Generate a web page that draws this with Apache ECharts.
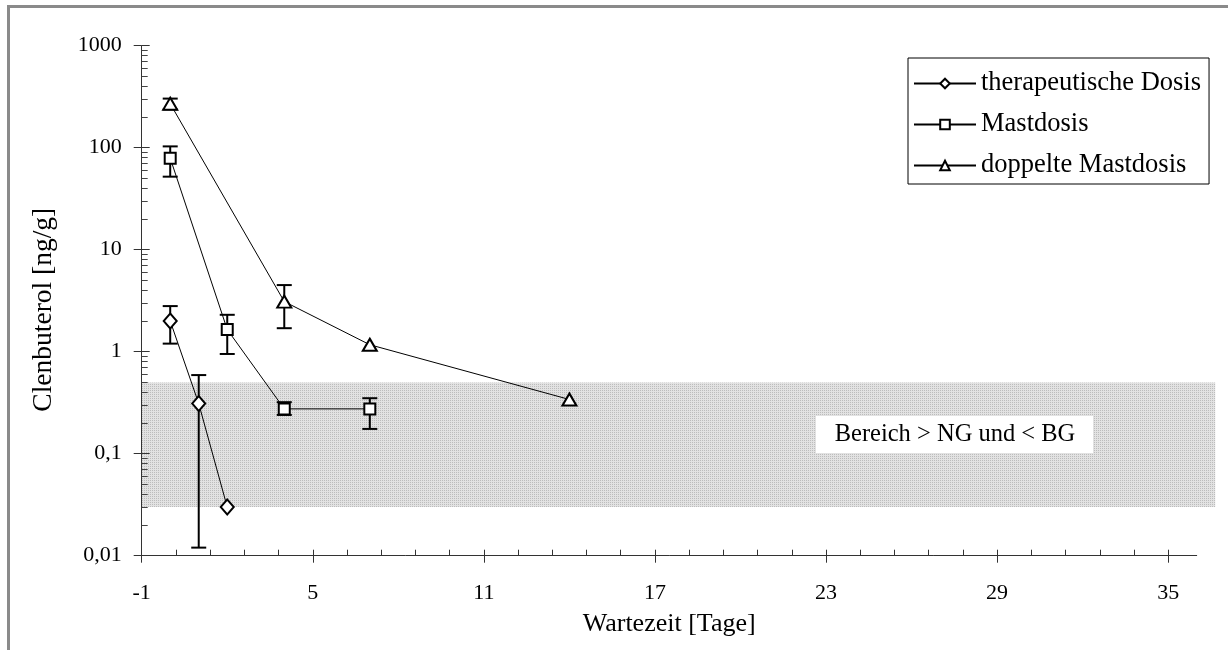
<!DOCTYPE html>
<html>
<head>
<meta charset="utf-8">
<script src="https://cdn.jsdelivr.net/npm/echarts@6/dist/echarts.min.js"></script>
<style>
html, body { margin: 0; padding: 0; background: #fff; }
#chart { width: 1228px; height: 650px; }
</style>
</head>
<body>
<div id="chart"></div>
<script>
// Clenbuterol residue vs. withdrawal time (log scale), mean with min/max bars
const seriesNames = ['therapeutische Dosis', 'Mastdosis', 'doppelte Mastdosis'];

const therapDays = [0, 1, 2];
const therapMean = [2.0, 0.31, 0.03];
const therapLow  = [1.2, 0.012, null];
const therapHigh = [2.8, 0.59, null];

const mastDays = [0, 2, 4, 7];
const mastMean = [79, 1.65, 0.275, 0.275];
const mastLow  = [52, 0.95, 0.24, 0.175];
const mastHigh = [103, 2.3, 0.32, 0.35];

const doppDays = [0, 4, 7, 14];
const doppMean = [270, 3.1, 1.17, 0.34];
const doppLow  = [237, 1.7, null, null];
const doppHigh = [303, 4.5, null, null];

// range between detection limit (NG) and determination limit (BG)
const bandLow = 0.03;
const bandHigh = 0.5;
const bandLabel = 'Bereich > NG und < BG';

const xTickLabels = [-1, 5, 11, 17, 23, 29, 35];
const yTickLabels = [0.01, 0.1, 1, 10, 100, 1000];
const xName = 'Wartezeit [Tage]';
const yName = 'Clenbuterol [ng/g]';

const FONT = '"Liberation Serif", "Times New Roman", serif';

// minor ticks: 5 steps between x majors, 2..9 within each decade on y
const xMinor = [];
for (let i = 0; i < xTickLabels.length - 1; i++) {
  const a = xTickLabels[i], b = xTickLabels[i + 1];
  for (let k = 1; k < 5; k++) xMinor.push(+(a + (b - a) * k / 5).toFixed(4));
}
const yMinor = [];
for (let i = 0; i < yTickLabels.length - 1; i++) {
  for (let m = 2; m <= 9; m++) yMinor.push(+(yTickLabels[i] * m).toPrecision(3));
}

function pairs(xs, ys) { return xs.map((x, i) => [x, ys[i]]); }
function bars(xs, lo, hi) {
  const out = [];
  xs.forEach((x, i) => { if (lo[i] != null && hi[i] != null) out.push([x, lo[i], hi[i]]); });
  return out;
}

// light dotted fill for the NG/BG band
const pat = document.createElement('canvas');
pat.width = 2; pat.height = 2;
const pctx = pat.getContext('2d');
pctx.fillStyle = '#e2e2e2'; pctx.fillRect(0, 0, 2, 2);
pctx.fillStyle = '#bcbcbc'; pctx.fillRect(0, 0, 1, 1);

const chart = echarts.init(document.getElementById('chart'), null, { renderer: 'canvas' });

function errorBarItem(params, api) {
  const x = api.value(0);
  const pLo = api.coord([x, api.value(1)]);
  const pHi = api.coord([x, api.value(2)]);
  const w = 7.5;
  const st = { stroke: '#000', lineWidth: 2 };
  return {
    type: 'group',
    children: [
      { type: 'line', shape: { x1: pLo[0], y1: pLo[1], x2: pHi[0], y2: pHi[1] }, style: st },
      { type: 'line', shape: { x1: pHi[0] - w, y1: pHi[1], x2: pHi[0] + w, y2: pHi[1] }, style: st },
      { type: 'line', shape: { x1: pLo[0] - w, y1: pLo[1], x2: pLo[0] + w, y2: pLo[1] }, style: st }
    ]
  };
}

const axisLineStyle = { color: '#333', width: 1 };
const markerStyle = { color: '#fff', borderColor: '#000', borderWidth: 2 };

chart.setOption({
  animation: false,
  backgroundColor: '#fff',
  grid: { left: 141.7, right: 31.3, top: 45.7, bottom: 94.3 },
  xAxis: [
    {
      type: 'value', min: -1, max: 36, z: 2,
      axisLine: { onZero: false, lineStyle: axisLineStyle },
      axisTick: { show: true, inside: false, length: 7, lineStyle: axisLineStyle, customValues: xTickLabels },
      axisLabel: { customValues: xTickLabels, color: '#000', fontFamily: FONT, fontSize: 22, margin: 27 },
      splitLine: { show: false },
      name: xName, nameLocation: 'middle', nameGap: 55,
      nameTextStyle: { color: '#000', fontFamily: FONT, fontSize: 26 }
    },
    {
      type: 'value', min: -1, max: 36, z: 2, position: 'bottom',
      axisLine: { show: false, onZero: false },
      axisTick: { show: true, inside: true, length: 6, lineStyle: axisLineStyle, customValues: xTickLabels.concat(xMinor) },
      axisLabel: { show: false },
      splitLine: { show: false }
    }
  ],
  yAxis: [
    {
      type: 'log', logBase: 10, min: 0.01, max: 1000, z: 2,
      axisLine: { show: true, onZero: false, lineStyle: axisLineStyle },
      axisTick: { show: true, inside: false, length: 8, lineStyle: axisLineStyle, customValues: yTickLabels },
      axisLabel: {
        customValues: yTickLabels, color: '#000', fontFamily: FONT, fontSize: 22, margin: 20,
        formatter: v => String(+v.toPrecision(3)).replace('.', ',')
      },
      splitLine: { show: false },
      name: yName, nameLocation: 'middle', nameGap: 84, nameRotate: 90,
      nameTextStyle: { color: '#000', fontFamily: FONT, fontSize: 27.5, padding: [0, 0, 0, -18] }
    },
    {
      type: 'log', logBase: 10, min: 0.01, max: 1000, z: 2, position: 'left',
      axisLine: { show: false, onZero: false },
      axisTick: { show: true, inside: true, length: 8, lineStyle: axisLineStyle, customValues: yTickLabels },
      axisLabel: { show: false },
      splitLine: { show: false }
    },
    {
      type: 'log', logBase: 10, min: 0.01, max: 1000, z: 2, position: 'left',
      axisLine: { show: false, onZero: false },
      axisTick: { show: true, inside: true, length: 6, lineStyle: { color: '#444', width: 1 }, customValues: yMinor },
      axisLabel: { show: false },
      splitLine: { show: false }
    }
  ],
  legend: {
    orient: 'vertical', left: 908, top: 58,
    padding: [12, 8, 5, 5], itemGap: 14, itemWidth: 62, itemHeight: 12,
    borderColor: '#000', borderWidth: 1, backgroundColor: '#fff',
    textStyle: { color: '#000', fontFamily: FONT, fontSize: 26.5 },
    data: seriesNames
  },
  graphic: [
    {
      type: 'rect', silent: true, z: 100,
      shape: { x: 8.5, y: 6.5, width: 1400, height: 1000 },
      style: { fill: 'none', stroke: '#8a8a8a', lineWidth: 3 }
    },
    {
      type: 'rect', silent: true, z: 50,
      shape: { x: 816, y: 416, width: 277, height: 37 },
      style: { fill: '#fff' }
    },
    {
      type: 'text', silent: true, z: 51, x: 955, y: 435,
      style: { text: bandLabel, fill: '#000', font: '24.5px ' + FONT, align: 'center', verticalAlign: 'middle' }
    }
  ],
  series: [
    {
      type: 'custom', name: 'band', z: 1, clip: false, silent: true,
      data: [[-1, 36.65, bandLow, bandHigh]],
      renderItem: (params, api) => {
        const p1 = api.coord([api.value(0), api.value(3)]);
        const p2 = api.coord([api.value(1), api.value(2)]);
        return {
          type: 'rect',
          shape: { x: p1[0], y: p1[1], width: p2[0] - p1[0], height: p2[1] - p1[1] },
          style: { fill: { image: pat, repeat: 'repeat' } }
        };
      }
    },
    { type: 'custom', name: 'err-t', z: 3, clip: false, data: bars(therapDays, therapLow, therapHigh), renderItem: errorBarItem },
    { type: 'custom', name: 'err-m', z: 3, clip: false, data: bars(mastDays, mastLow, mastHigh), renderItem: errorBarItem },
    { type: 'custom', name: 'err-d', z: 3, clip: false, data: bars(doppDays, doppLow, doppHigh), renderItem: errorBarItem },
    {
      name: seriesNames[0], type: 'line', z: 4, data: pairs(therapDays, therapMean),
      symbol: 'diamond', symbolSize: [13, 15], showAllSymbol: true,
      lineStyle: { color: '#000', width: 1 }, itemStyle: markerStyle
    },
    {
      name: seriesNames[1], type: 'line', z: 4, data: pairs(mastDays, mastMean),
      symbol: 'rect', symbolSize: 11, showAllSymbol: true,
      lineStyle: { color: '#000', width: 1 }, itemStyle: markerStyle
    },
    {
      name: seriesNames[2], type: 'line', z: 4, data: pairs(doppDays, doppMean),
      symbol: 'triangle', symbolSize: [14, 12], showAllSymbol: true,
      lineStyle: { color: '#000', width: 1 }, itemStyle: markerStyle
    }
  ]
});
</script>
</body>
</html>
